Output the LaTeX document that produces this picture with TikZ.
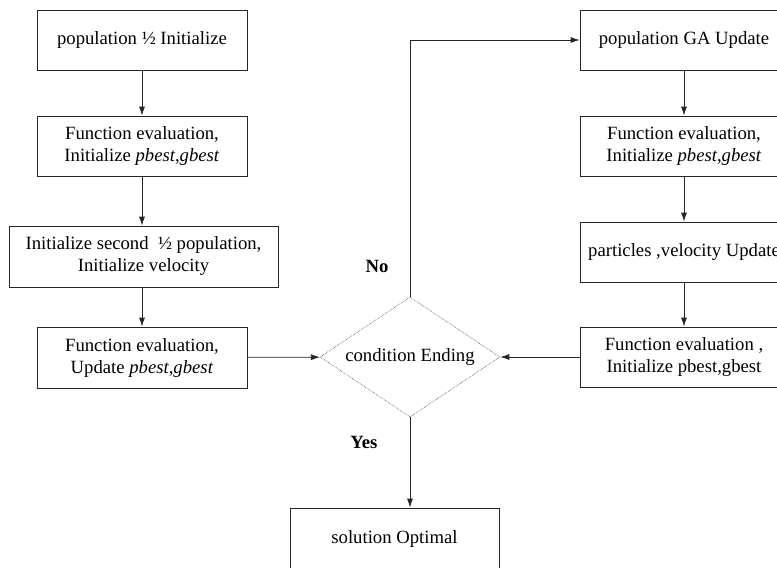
\documentclass[tikz,border=0pt]{standalone}
\usepackage{fontspec}
\setmainfont{Liberation Serif}
\usetikzlibrary{shapes.geometric,arrows.meta}

\begin{document}
\begin{tikzpicture}[x=1pt,y=-1pt,
  font=\fontsize{18.7}{22}\selectfont,
  box/.style={draw=black!85,line width=0.8pt,rectangle,minimum width=210pt,
    minimum height=60pt,inner sep=0pt,align=center},
  cond/.style={draw=black!70,densely dotted,line width=0.6pt,diamond,aspect=1.5,
    minimum width=180pt,minimum height=120pt,inner sep=0pt},
  flow/.style={-{Latex[length=9pt,width=6pt]},line width=0.8pt,draw=black!85},
  lbl/.style={font=\fontsize{18.7}{22}\selectfont\bfseries}]
  \useasboundingbox (0,0) rectangle (777,568);

  % Left column: first half of the population
  \node[box] (init) at (142,40) {population ½ Initialize};
  \node[box] (eval1) at (142,146) {Function evaluation,\\ Initialize \textit{pbest},\textit{gbest}};
  \node[box,minimum width=269pt,minimum height=61pt] (second) at (143.5,256.5)
    {Initialize second\ \ ½ population,\\ Initialize velocity};
  \node[box,minimum height=61pt] (eval2) at (142,357.5) {Function evaluation,\\ Update \textit{pbest},\textit{gbest}};

  % Decision
  \node[cond] (ending) at (410,357) {condition Ending};

  % Right column: GA / PSO update loop
  \node[box,minimum width=208pt] (ga) at (684,40) {population GA Update};
  \node[box,minimum width=208pt] (eval3) at (684,146) {Function evaluation,\\ Initialize \textit{pbest},\textit{gbest}};
  \node[box,minimum width=208pt] (vel) at (684,252) {particles ,velocity Update};
  \node[box,minimum width=208pt] (eval4) at (684,357) {Function evaluation ,\\ Initialize pbest,gbest};

  % Result
  \node[box,minimum width=209pt,minimum height=62pt] (optimal) at (394.5,539) {solution Optimal};

  % Branch labels
  \node[lbl] (no) at (377,266) {No};
  \node[lbl] (yes) at (364,442) {Yes};

  % Arrows
  \draw[flow] (init) -- (eval1);
  \draw[flow] (eval1) -- (eval1 |- second.north);
  \draw[flow] (second.south -| eval2) -- (eval2);
  \draw[flow] (eval2) -- (ending);
  \draw[flow] (ending.north) -- (ending.north |- ga.west) -- (ga.west);
  \draw[flow] (ga) -- (eval3);
  \draw[flow] (eval3) -- (vel);
  \draw[flow] (vel) -- (eval4);
  \draw[flow] (eval4) -- (ending);
  \draw[flow] (ending.south) -- (ending.south |- optimal.north);
\end{tikzpicture}
\end{document}
